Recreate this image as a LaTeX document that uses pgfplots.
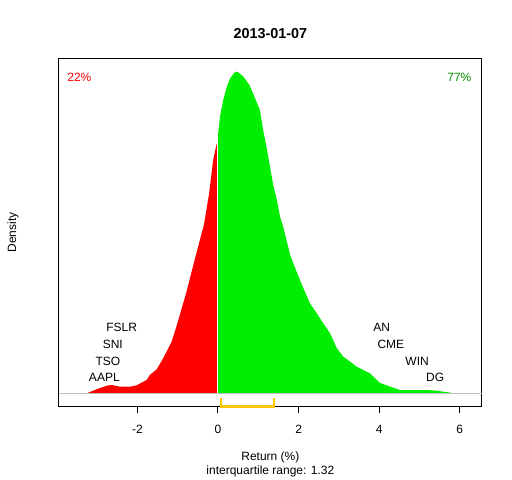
\documentclass[border=0pt]{standalone}
\usepackage{pgfplots}
\pgfplotsset{compat=1.18}
\usepackage{fontspec}
\setmainfont{Liberation Sans}
\definecolor{rred}{RGB}{255,0,0}
\definecolor{rgreen}{RGB}{0,238,0}
\definecolor{dgreen}{RGB}{0,145,0}
\definecolor{iqr}{RGB}{255,200,0}
\definecolor{base}{RGB}{190,190,190}
\begin{document}
\fontsize{12bp}{14bp}\selectfont
\begin{tikzpicture}
\useasboundingbox (-59bp,-74bp) rectangle (453bp,406bp);
\begin{axis}[
  scale only axis,
  width=422.7bp, height=347bp,
  xmin=-3.945, xmax=6.543,
  ymin=-12.7, ymax=334.3,
  clip=false,
  axis line style={line width=1bp},
  xtick={-2,0,2,4,6},
  ytick=\empty,
  xtick pos=bottom,
  tick align=outside,
  major tick length=7bp,
  every tick/.style={line width=1bp, black},
  /pgf/number format/assume math mode=true,
  xticklabel style={anchor=center, yshift=-16bp},
  title={\bfseries\fontsize{14.4bp}{16bp}\selectfont 2013-01-07},
  title style={at={(0.5,1)}, anchor=center, yshift=19bp},
]
\addplot[fill=rred, draw=none] coordinates {
(-3.26,0)(-3.01,4)(-2.76,7.6)(-2.64,8.3)(-2.50,7.2)(-2.43,6.6)(-2.18,6.6)(-2.02,8)
(-1.77,13.3)(-1.69,18.3)(-1.52,24)(-1.36,35)(-1.15,51.6)(-1.02,68.3)(-0.78,101.6)
(-0.57,135)(-0.35,168.3)(-0.22,200)(-0.12,233.3)(-0.04,248.3)(0,253)(0,0)
} \closedcycle;
\addplot[fill=rgreen, draw=none] coordinates {
(0,0)(0,258)(0.01,262)(0.05,276.6)(0.13,293.3)(0.22,306.6)(0.30,315)(0.43,321.6)(0.50,321)
(0.63,316.6)(0.78,308.3)(0.92,295)(1.04,283.3)(1.12,263.3)(1.21,245)(1.29,226.6)
(1.37,208.3)(1.46,193.3)(1.54,176.6)(1.62,166)(1.71,151.6)(1.79,138.3)(1.95,121.6)
(2.12,105)(2.28,90)(2.45,80)(2.61,70)(2.78,60)(2.95,45)(3.11,36.6)(3.28,31.6)
(3.44,26.6)(3.77,20)(4.02,10.3)(4.35,5.6)(4.52,3.3)(4.85,3.3)(5.2,3.3)(5.43,2.6)
(5.59,1.6)(5.78,0.6)(5.80,0)
} \closedcycle;
\addplot[white, line width=1bp] coordinates {(0,0)(0,262)};
\addplot[base, line width=1bp] coordinates {(-3.945,0)(6.543,0)};
\addplot[iqr, line width=2.5bp] coordinates {(0.07,-4.5)(0.07,-13.2)(1.39,-13.2)(1.39,-4.5)};
\node[rred] at (axis cs:-3.44,316.3) {22\%};
\node[dgreen] at (axis cs:5.99,316.3) {77\%};
\node at (axis cs:-2.39,66) {FSLR};
\node at (axis cs:-2.61,49) {SNI};
\node at (axis cs:-2.73,31.6) {TSO};
\node at (axis cs:-2.82,15.6) {AAPL};
\node at (axis cs:4.06,66) {AN};
\node at (axis cs:4.29,49) {CME};
\node at (axis cs:4.94,31.6) {WIN};
\node at (axis cs:5.39,15.6) {DG};
\node at (rel axis cs:0.5,0) [yshift=-51bp] {Return (\%)};
\node at (rel axis cs:0.5,0) [yshift=-65.7bp] {interquartile range: 1.32};
\node at (rel axis cs:0,0.5) [xshift=-46bp, rotate=90] {Density};
\end{axis}
\end{tikzpicture}
\end{document}
